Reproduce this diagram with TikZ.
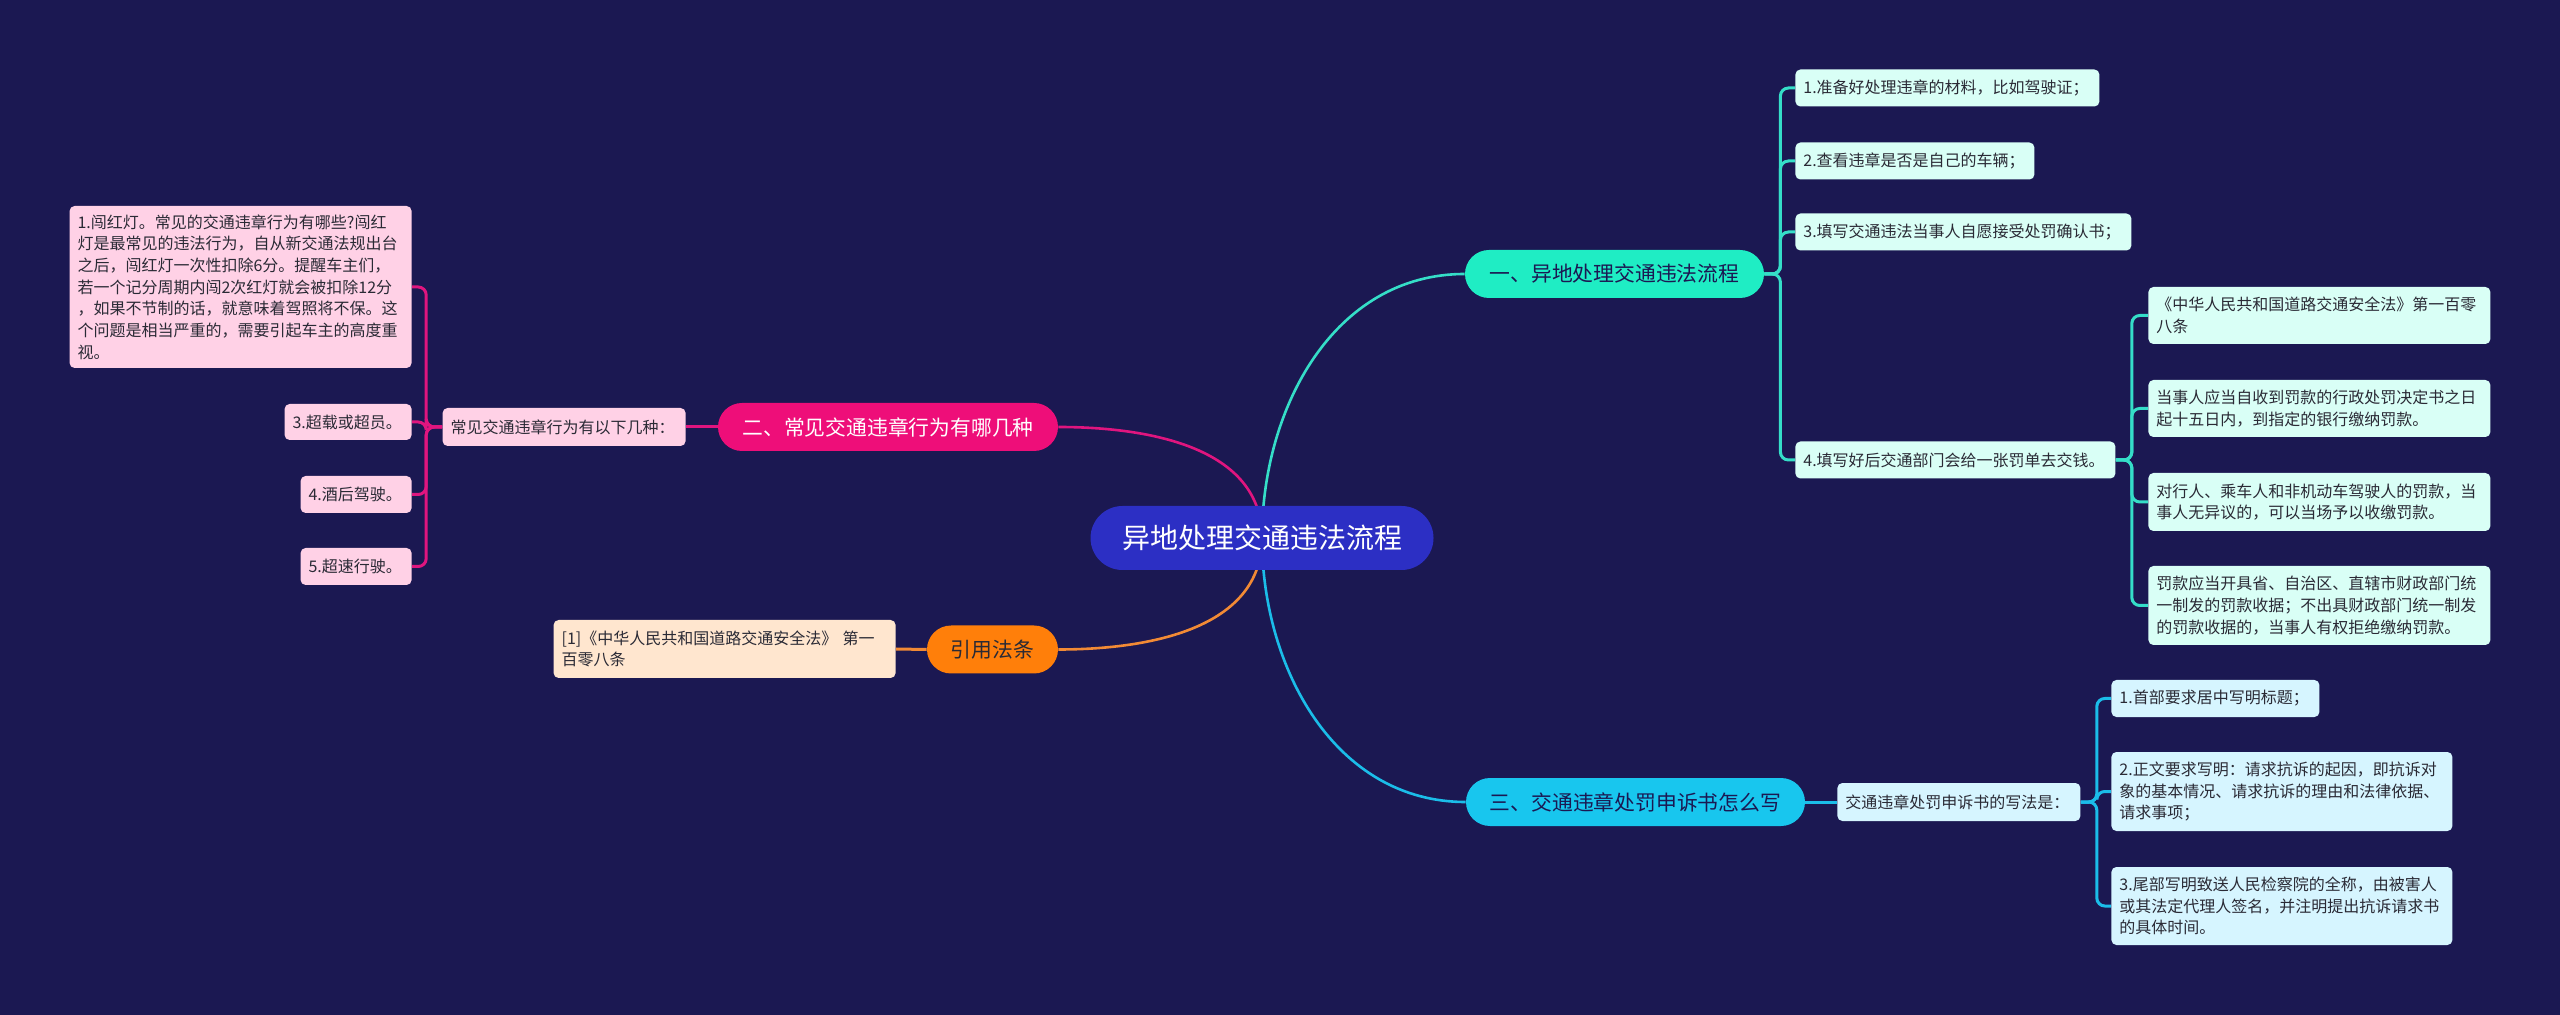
\documentclass[tikz,border=0pt]{standalone}
\usepackage{fontspec}
\setmainfont{Noto Sans CJK SC}
\usepackage{xcolor}
\usepackage{tikz}
\usetikzlibrary{backgrounds}

\definecolor{bgnavy}{HTML}{1B1852}
\definecolor{rootblue}{HTML}{2C2FC4}
\definecolor{mint}{HTML}{1FEDC4}
\definecolor{mintline}{HTML}{35DEC8}
\definecolor{mintpale}{HTML}{D9FFF6}
\definecolor{rose}{HTML}{EE0E79}
\definecolor{roseline}{HTML}{E0157F}
\definecolor{rosepale}{HTML}{FFD1E6}
\definecolor{amber}{HTML}{FF7F0A}
\definecolor{amberline}{HTML}{F28A35}
\definecolor{amberpale}{HTML}{FFE6CF}
\definecolor{sky}{HTML}{18C6EE}
\definecolor{skyline}{HTML}{1BBDE9}
\definecolor{skypale}{HTML}{D6F5FF}
\definecolor{inktext}{HTML}{2A2A35}
\definecolor{navytext}{HTML}{1B1852}

\begin{document}
\begin{tikzpicture}[x=0.5pt, y=-0.5pt,
  rootpill/.style={fill=rootblue, text=white, rounded corners=16pt, minimum width=171.5pt, minimum height=32pt, inner sep=0pt, font=\fontsize{14}{16}\selectfont},
  pill/.style={rounded corners=12pt, minimum height=24pt, inner sep=0pt, font=\fontsize{10.4}{12}\selectfont},
  leaf/.style={rounded corners=2.5pt, inner xsep=4pt, inner ysep=3pt, align=left, text=inktext, font=\fontsize{8}{10.85}\selectfont},
  link/.style={line width=1.5pt, rounded corners=4pt},
  curve/.style={line width=1.3pt}
]
\useasboundingbox (0,0) rectangle (2560,1015);

% centre
\node[rootpill] (root) at (1262,538) {异地处理交通违法流程};

% first level
\node[pill, fill=mint, text=navytext, minimum width=149.5pt] (a1) at (1614.5,274) {一、异地处理交通违法流程};
\node[pill, fill=rose, text=white, minimum width=170pt] (a2) at (888,427) {二、常见交通违章行为有哪几种};
\node[pill, fill=amber, text=inktext, minimum width=65.5pt] (a3) at (992.5,649.5) {引用法条};
\node[pill, fill=sky, text=navytext, minimum width=169.5pt] (a4) at (1635.5,802) {三、交通违章处罚申诉书怎么写};

% branch one
\node[leaf, fill=mintpale, anchor=west, text width=144pt, minimum height=18.5pt] (c1) at (1795,88) {1.准备好处理违章的材料，比如驾驶证；};
\node[leaf, fill=mintpale, anchor=west, text width=111.5pt, minimum height=18.5pt] (c2) at (1795,161) {2.查看违章是否是自己的车辆；};
\node[leaf, fill=mintpale, anchor=west, text width=160pt, minimum height=18.5pt] (c3) at (1795,232) {3.填写交通违法当事人自愿接受处罚确认书；};
\node[leaf, fill=mintpale, anchor=west, text width=152pt, minimum height=18.5pt] (c4) at (1795,460) {4.填写好后交通部门会给一张罚单去交钱。};

\node[leaf, fill=mintpale, anchor=west, text width=163pt, minimum height=28.5pt] (d1) at (2148,315.5) {《中华人民共和国道路交通安全法》第一百零\\八条};
\node[leaf, fill=mintpale, anchor=west, text width=163pt, minimum height=28.5pt] (d2) at (2148,408.5) {当事人应当自收到罚款的行政处罚决定书之日\\起十五日内，到指定的银行缴纳罚款。};
\node[leaf, fill=mintpale, anchor=west, text width=163pt, minimum height=29pt] (d3) at (2148,502) {对行人、乘车人和非机动车驾驶人的罚款，当\\事人无异议的，可以当场予以收缴罚款。};
\node[leaf, fill=mintpale, anchor=west, text width=163pt, minimum height=39.5pt] (d4) at (2148,605.5) {罚款应当开具省、自治区、直辖市财政部门统\\一制发的罚款收据；不出具财政部门统一制发\\的罚款收据的，当事人有权拒绝缴纳罚款。};

% branch two
\node[leaf, fill=rosepale, anchor=east, text width=113.5pt, minimum height=19pt] (s1) at (686,427) {常见交通违章行为有以下几种：};
\node[leaf, fill=rosepale, anchor=east, text width=163pt, minimum height=81pt] (b1) at (412,287) {1.闯红灯。常见的交通违章行为有哪些?闯红\\灯是最常见的违法行为，自从新交通法规出台\\之后，闯红灯一次性扣除6分。提醒车主们，\\若一个记分周期内闯2次红灯就会被扣除12分\\，如果不节制的话，就意味着驾照将不保。这\\个问题是相当严重的，需要引起车主的高度重\\视。};
\node[leaf, fill=rosepale, anchor=east, text width=55.5pt, minimum height=18pt] (b3) at (412,422) {3.超载或超员。};
\node[leaf, fill=rosepale, anchor=east, text width=47.5pt, minimum height=18.5pt] (b4) at (412,494.5) {4.酒后驾驶。};
\node[leaf, fill=rosepale, anchor=east, text width=47.5pt, minimum height=18.5pt] (b5) at (412,566.5) {5.超速行驶。};

% citation
\node[leaf, fill=amberpale, anchor=east, text width=163pt, minimum height=29pt] (r1) at (896,649) {[1]《中华人民共和国道路交通安全法》 第一\\百零八条};

% branch three
\node[leaf, fill=skypale, anchor=west, text width=113.5pt, minimum height=19pt] (t1) at (1837,802) {交通违章处罚申诉书的写法是：};
\node[leaf, fill=skypale, anchor=west, text width=96pt, minimum height=18.5pt] (e1) at (2111,698.5) {1.首部要求居中写明标题；};
\node[leaf, fill=skypale, anchor=west, text width=162.5pt, minimum height=39.5pt] (e2) at (2111,791.5) {2.正文要求写明：请求抗诉的起因，即抗诉对\\象的基本情况、请求抗诉的理由和法律依据、\\请求事项；};
\node[leaf, fill=skypale, anchor=west, text width=162.5pt, minimum height=39pt] (e3) at (2111,906) {3.尾部写明致送人民检察院的全称，由被害人\\或其法定代理人签名，并注明提出抗诉请求书\\的具体时间。};

\begin{scope}[on background layer]
\fill[bgnavy] (0,0) rectangle (2560,1015);

% centre to first level
\draw[curve, mintline] (root.center) to[out=90, in=180] (a1.west);
\draw[curve, roseline] (root.center) to[out=90, in=0] (a2.east);
\draw[curve, amberline] (root.center) to[out=-90, in=0] (a3.east);
\draw[curve, skyline] (root.center) to[out=-90, in=180] (a4.west);

% brackets
\foreach \n in {c1,c2,c3,c4}
  \draw[link, mintline] (a1.east) -- ++(16,0) |- (\n.west);
\foreach \n in {d1,d2,d3,d4}
  \draw[link, mintline] (c4.east) -- ++(16,0) |- (\n.west);
\draw[link, roseline] (a2.west) -- (s1.east);
\foreach \n in {b1,b3,b4,b5}
  \draw[link, roseline] (s1.west) -- ++(-16,0) |- (\n.east);
\draw[link, amberline] (a3.west) -- (r1.east);
\draw[link, skyline] (a4.east) -- (t1.west);
\foreach \n in {e1,e2,e3}
  \draw[link, skyline] (t1.east) -- ++(16,0) |- (\n.west);
\end{scope}
\end{tikzpicture}
\end{document}
